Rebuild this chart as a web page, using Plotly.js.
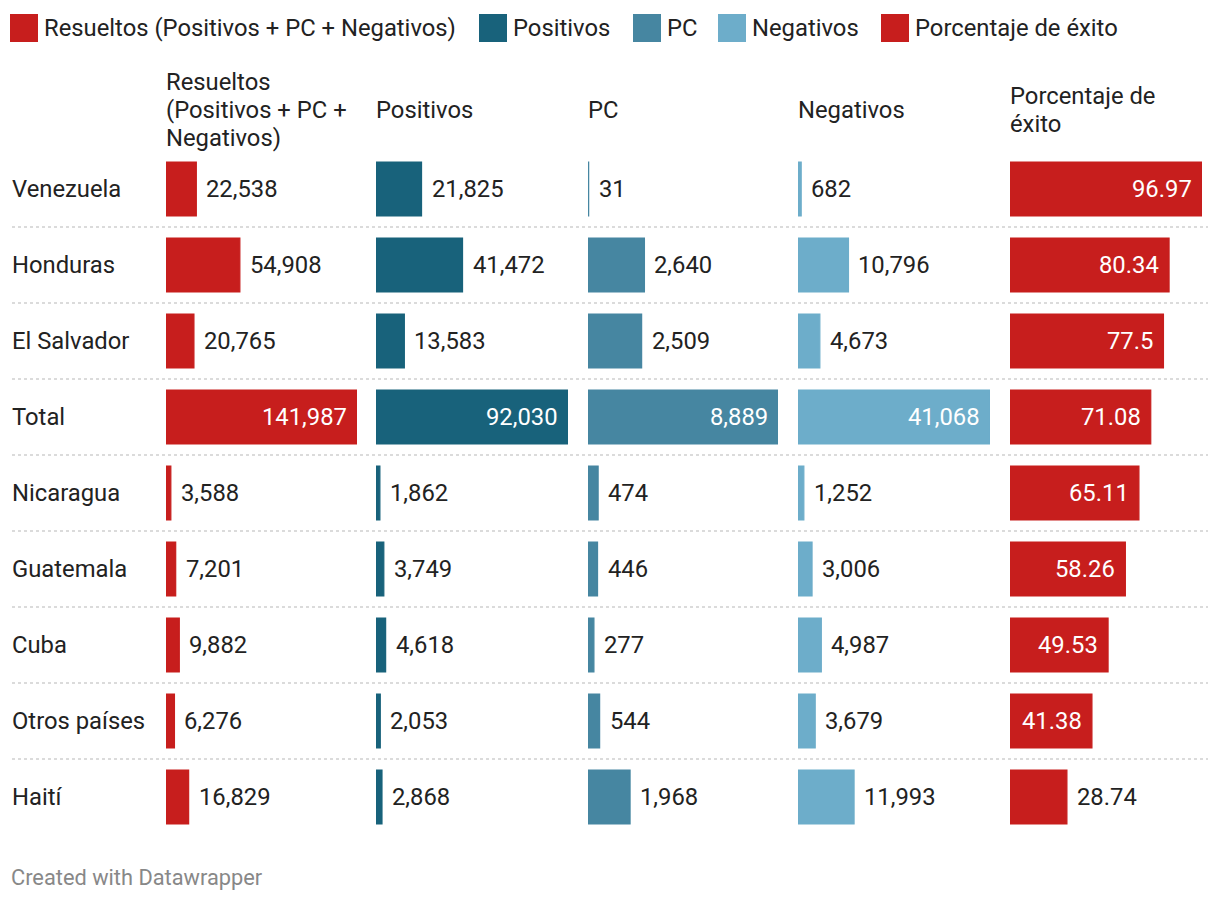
<!DOCTYPE html>
<html><head><meta charset="utf-8">
<script src="https://cdn.plot.ly/plotly-3.0.1.min.js"></script>
<style>html,body{margin:0;padding:0;background:#fff}#chart{width:1220px;height:902px}</style>
</head><body><div id="chart"></div>
<script>
// ---- data ----
const countries = ["Venezuela","Honduras","El Salvador","Total","Nicaragua","Guatemala","Cuba","Otros países","Haití"];
const resueltos = [22538,54908,20765,141987,3588,7201,9882,6276,16829];
const positivos = [21825,41472,13583,92030,1862,3749,4618,2053,2868];
const pc = [31,2640,2509,8889,474,446,277,544,1968];
const negativos = [682,10796,4673,41068,1252,3006,4987,3679,11993];
const exito = [96.97,80.34,77.5,71.08,65.11,58.26,49.53,41.38,28.74];
const seriesNames = ["Resueltos (Positivos + PC + Negativos)","Positivos","PC","Negativos","Porcentaje de éxito"];
const headerLines = [["Resueltos","(Positivos + PC +","Negativos)"],["Positivos"],["PC"],["Negativos"],["Porcentaje de","éxito"]];
const footerText = "Created with Datawrapper";

// ---- styling ----
const W = 1220, H = 902;
const FONT = "Roboto, 'Noto Sans', sans-serif";
const FS = 23.8;
const LINE_H = 27.5;
const colors = ["#c71e1d","#18627b","#4686a1","#6dadca","#c71e1d"];
const colStart = [166,376,588,798,1010];
const colEnd = [357,568,778,990,1202];
const plotTop = 151, plotBottom = 835;
const fx = x => x / W;
const fy = y => 1 - y / H;

const seriesData = [resueltos, positivos, pc, negativos, exito];
const isPct = [false,false,false,false,true];
const fmt = (v, pct) => pct ? String(v) : v.toLocaleString('en-US');

const canvas = document.createElement('canvas');
const ctx = canvas.getContext('2d');
ctx.font = FS + "px Roboto";

const traces = [];
const annotations = [];
const shapes = [];
const layout = {
  width: W, height: H,
  margin: {l:0,r:0,t:0,b:0},
  paper_bgcolor: "#fff", plot_bgcolor: "#fff",
  showlegend: false,
  font: {family: FONT, size: FS, color: "#222"},
  yaxis: {domain:[fy(plotBottom), fy(plotTop)], range:[8.5,-0.5], visible:false, fixedrange:true, type:'category', categoryarray: countries},
  bargap: 0
};

seriesData.forEach((vals, i) => {
  const sfx = i === 0 ? '' : String(i+1);
  const max = Math.max(...vals);
  layout['xaxis' + sfx] = {domain:[fx(colStart[i]), fx(colEnd[i])], range:[0, max], visible:false, fixedrange:true, anchor:'y'};
  traces.push({
    type:'bar', orientation:'h', name: seriesNames[i],
    x: vals, y: countries, xaxis:'x'+sfx, yaxis:'y',
    width: 0.71,
    marker:{color: colors[i], line:{color: colors[i], width: 1.2}},
    hoverinfo:'skip'
  });
  const colW = colEnd[i] - colStart[i];
  vals.forEach((v, r) => {
    const label = fmt(v, isPct[i]);
    const barPx = v / max * colW;
    const tw = ctx.measureText(label).width;
    const inside = barPx >= tw + 20;
    annotations.push({
      xref:'x'+sfx, yref:'y', x: v, y: countries[r],
      text: label, showarrow:false,
      xanchor: inside ? 'right' : 'left',
      xshift: inside ? -8 : 8,
      yanchor:'middle',
      font:{family:FONT, size:FS, color: inside ? '#ffffff' : '#222222'}
    });
  });
  // column header, vertically centred on y=110
  const lines = headerLines[i];
  lines.forEach((ln, j) => {
    const yc = 110 + (j - (lines.length - 1) / 2) * LINE_H;
    annotations.push({
      xref:'paper', yref:'paper', x: fx(colStart[i] - 2.5), y: fy(yc),
      xanchor:'left', yanchor:'middle', align:'left', showarrow:false,
      text: ln, font:{family:FONT, size:FS, color:'#222'}
    });
  });
});

// country labels
countries.forEach(c => {
  annotations.push({
    xref:'paper', yref:'y', x: fx(10), y: c, xanchor:'left', yanchor:'middle',
    showarrow:false, text:c, font:{family:FONT, size:FS, color:'#222'}
  });
});

// row separators
for (let k = 0; k < countries.length - 1; k++) {
  shapes.push({type:'line', xref:'paper', yref:'y', x0: fx(12), x1: fx(1208), y0: k+0.5, y1: k+0.5,
    line:{color:'#d0d0d0', width:1.5, dash:'dot'}});
}

// legend
const legX = [10, 479, 633, 718, 881];
seriesNames.forEach((n, i) => {
  shapes.push({type:'rect', xref:'paper', yref:'paper', x0: fx(legX[i]), x1: fx(legX[i]+28), y0: fy(42), y1: fy(14),
    fillcolor: colors[i], line:{width:0}});
  annotations.push({xref:'paper', yref:'paper', x: fx(legX[i]+32), y: fy(28), xanchor:'left', yanchor:'middle',
    showarrow:false, text:n, font:{family:FONT, size:FS, color:'#222'}});
});

// footer
annotations.push({xref:'paper', yref:'paper', x: fx(9), y: fy(877), xanchor:'left', yanchor:'middle',
  showarrow:false, text: footerText, font:{family:FONT, size:21.8, color:'#888888'}});

layout.annotations = annotations;
layout.shapes = shapes;
Plotly.newPlot('chart', traces, layout, {displayModeBar:false, staticPlot:true});
</script>
</body></html>
